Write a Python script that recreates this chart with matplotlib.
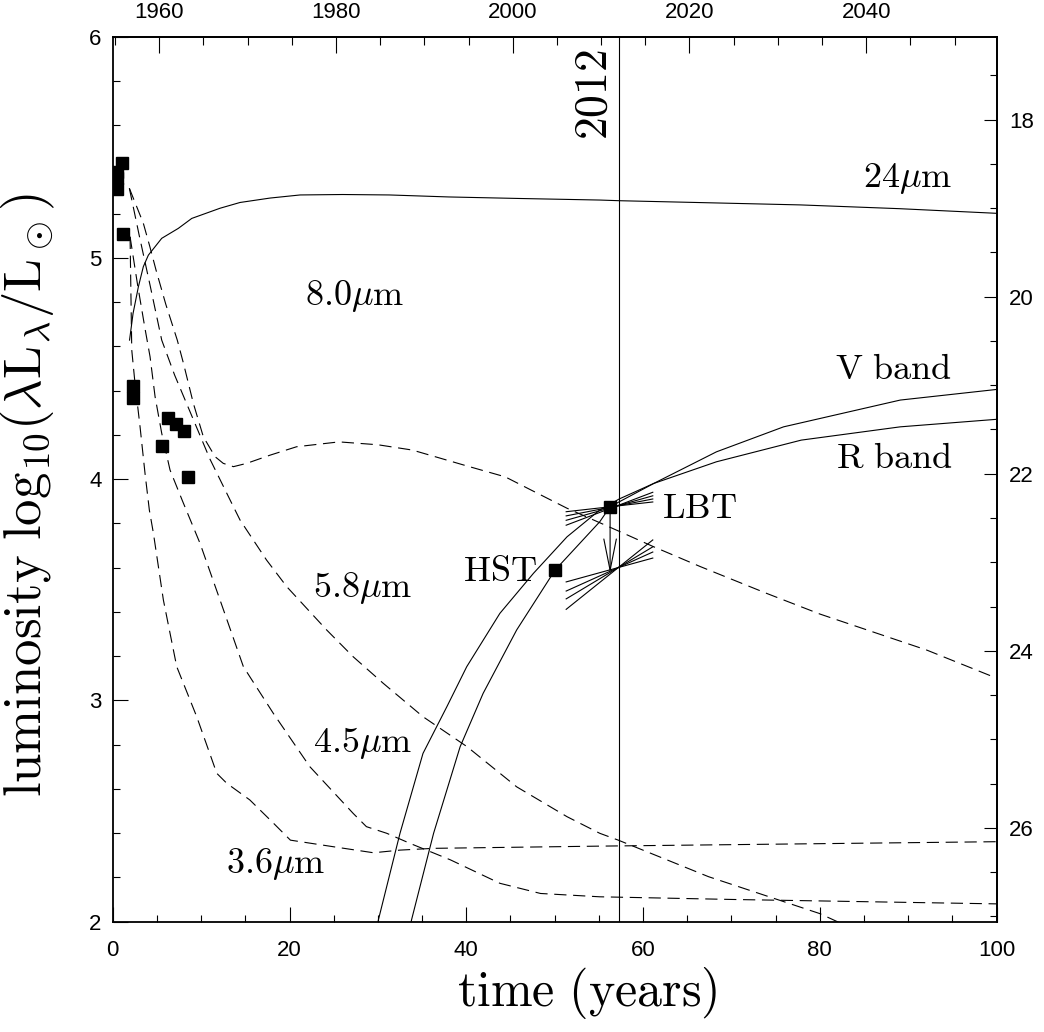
import numpy as np
import matplotlib
matplotlib.use('Agg')
import matplotlib.pyplot as plt
from matplotlib.ticker import MultipleLocator, FixedLocator

plt.rcParams['mathtext.fontset'] = 'cm'
plt.rcParams['font.family'] = ['Liberation Sans', 'DejaVu Sans']

# time zero and magnitude zero point for the twin axes
year0 = 1954.75
mag0 = 32.06
t_2012 = 2012 - year0
year_major = [1960, 1980, 2000, 2020, 2040]
year_minor = [1955 + 5 * i for i in range(20)]
mag_major = [18, 20, 22, 24, 26]
mag_minor = [17.5 + 0.5 * i for i in range(20)]

# 24 micron model (solid)
t_24 = [1.9, 2.3, 2.9, 3.46, 4.03, 5.54, 7.42, 8.94, 12.14, 14.4, 17.8, 21.2, 26.0, 31.3, 38.0, 46.1, 55.1, 57.3, 66.0, 77.8, 89.0, 100.0]
L_24 = [4.628, 4.749, 4.869, 4.96, 5.012, 5.088, 5.133, 5.178, 5.224, 5.25, 5.27, 5.284, 5.286, 5.284, 5.275, 5.268, 5.261, 5.258, 5.25, 5.239, 5.222, 5.201]

# IRAC models (dashed)
t_80 = [1.88, 3.46, 4.2, 4.9, 6.0, 7.3, 8.0, 9.12, 10.25, 11.58, 12.5, 13.65, 15.16, 17.8, 20.8, 25.6, 30.0, 33.9, 40.0, 44.4, 47.2, 51.4, 57.4, 61.2, 66.5, 74.0, 80.0, 92.1, 100.0]
L_80 = [5.314, 5.156, 5.05, 4.944, 4.79, 4.628, 4.523, 4.342, 4.191, 4.101, 4.071, 4.056, 4.071, 4.108, 4.146, 4.168, 4.155, 4.131, 4.06, 4.01, 3.953, 3.868, 3.762, 3.694, 3.604, 3.483, 3.39, 3.227, 3.1]

t_58 = [1.88, 3.0, 4.2, 5.54, 7.0, 9.0, 11.0, 13.28, 14.4, 17.4, 19.7, 24.2, 27.2, 30.6, 35.1, 40.1, 45.7, 51.4, 55.1, 57.2, 67.4, 80.0, 82.5]
L_58 = [5.314, 5.1, 4.88, 4.628, 4.47, 4.28, 4.09, 3.905, 3.815, 3.634, 3.513, 3.318, 3.197, 3.077, 2.926, 2.79, 2.609, 2.474, 2.399, 2.368, 2.203, 2.036, 1.99]

t_45 = [1.96, 2.8, 3.65, 4.22, 4.79, 5.54, 6.48, 7.9, 9.88, 12.14, 14.78, 18.17, 22.3, 27.2, 28.7, 31.0, 33.6, 38.2, 43.8, 48.4, 55.1, 70.0, 85.0, 100.0]
L_45 = [5.095, 4.88, 4.68, 4.553, 4.372, 4.207, 4.041, 3.9, 3.709, 3.453, 3.152, 2.941, 2.70, 2.489, 2.429, 2.399, 2.354, 2.279, 2.173, 2.127, 2.112, 2.10, 2.09, 2.08]

t_36 = [1.96, 2.15, 2.52, 3.09, 3.65, 4.14, 4.6, 5.73, 7.24, 9.5, 11.77, 12.9, 15.5, 18.2, 20.1, 25.0, 29.5, 32.5, 36.3, 43.8, 55.1, 100.0]
L_36 = [5.095, 4.583, 4.432, 4.236, 4.026, 3.86, 3.755, 3.453, 3.152, 2.926, 2.67, 2.625, 2.55, 2.444, 2.368, 2.338, 2.311, 2.323, 2.331, 2.335, 2.341, 2.361]

# optical models (solid)
t_R = [29.6, 30.05, 32.5, 35.1, 37.8, 40.05, 43.8, 47.6, 51.4, 55.1, 57.3, 61.2, 68.3, 77.9, 89.1, 100.0]
L_R = [1.9, 2.007, 2.399, 2.76, 2.971, 3.152, 3.393, 3.574, 3.739, 3.86, 3.91, 3.98, 4.078, 4.176, 4.236, 4.27]
t_V = [33.3, 33.8, 36.3, 39.3, 41.9, 45.7, 50.05, 55.1, 56.27, 57.3, 61.2, 68.3, 75.9, 89.1, 100.0]
L_V = [1.9, 2.007, 2.399, 2.79, 3.031, 3.318, 3.589, 3.807, 3.875, 3.897, 3.98, 4.123, 4.236, 4.357, 4.405]

# observed points
t_obs = [1.0, 0.5, 0.5, 0.5, 1.2, 2.26, 2.33, 6.26, 7.16, 8.07, 5.58, 8.52]
L_obs = [5.43, 5.39, 5.36, 5.31, 5.107, 4.42, 4.365, 4.277, 4.25, 4.218, 4.149, 4.01]
t_hst, L_hst = 50.05, 3.589
t_lbt, L_lbt = 56.27, 3.875
L_lbt_lim = 3.575

# slope fans around the LBT point and its upper limit
fan_t = [51.3, 61.1]
fan_hi_pivot = (57.0, 3.878)
fan_hi_slopes = [0.0045, 0.0078, 0.0113, 0.0152]
fan_lo_pivot = (57.2, 3.60)
fan_lo_slopes = [0.011, 0.018, 0.024, 0.032]

fig = plt.figure(figsize=(10.44, 10.32), dpi=100)
ax = fig.add_axes([0.108, 0.107, 0.8466, 0.8576])

lw = 0.8
dash = (11, 6)
ax.plot(t_24, L_24, color='k', lw=lw)
for tt, ll in [(t_80, L_80), (t_58, L_58), (t_45, L_45), (t_36, L_36)]:
    ax.plot(tt, ll, color='k', lw=lw, dashes=dash)
ax.plot(t_R, L_R, color='k', lw=lw)
ax.plot(t_V, L_V, color='k', lw=lw)

ax.plot(t_obs, L_obs, 's', color='k', ms=8.5)
ax.plot([t_hst, t_lbt], [L_hst, L_lbt], 's', color='k', ms=8.5)

for (t0, l0), slopes in [(fan_hi_pivot, fan_hi_slopes), (fan_lo_pivot, fan_lo_slopes)]:
    for s in slopes:
        ax.plot(fan_t, [l0 + s * (x - t0) for x in fan_t], color='k', lw=lw)

ax.annotate('', xy=(t_lbt, L_lbt_lim), xytext=(t_lbt, L_lbt - 0.03),
            arrowprops=dict(arrowstyle='->,head_length=1.5,head_width=0.3',
                            mutation_scale=15, lw=lw, color='k', shrinkA=0, shrinkB=0))

ax.axvline(t_2012, color='k', lw=lw)

ax.set_xlim(0, 100)
ax.set_ylim(2, 6)

tfs = 26
ax.text(94.97, 5.321, r'$24\mu\mathrm{m}$', fontsize=tfs, ha='right', va='baseline')
ax.text(21.8, 4.785, r'$8.0\mu\mathrm{m}$', fontsize=tfs, ha='left', va='baseline')
ax.text(22.7, 3.468, r'$5.8\mu\mathrm{m}$', fontsize=tfs, ha='left', va='baseline')
ax.text(22.7, 2.767, r'$4.5\mu\mathrm{m}$', fontsize=tfs, ha='left', va='baseline')
ax.text(12.82, 2.221, r'$3.6\mu\mathrm{m}$', fontsize=tfs, ha='left', va='baseline')
ax.text(94.97, 4.451, r'$\mathrm{V\ band}$', fontsize=tfs, ha='right', va='baseline')
ax.text(94.97, 4.048, r'$\mathrm{R\ band}$', fontsize=tfs, ha='right', va='baseline')
ax.text(62.1, 3.822, r'$\mathrm{LBT}$', fontsize=tfs, ha='left', va='baseline')
ax.text(39.6, 3.539, r'$\mathrm{HST}$', fontsize=tfs, ha='left', va='baseline')
ax.text(t_2012 - 0.25, 5.74, r'$\mathrm{2012}$', fontsize=33, rotation=90,
        ha='right', va='center')

ax.set_xlabel(r'$\mathrm{time\ (years)}$', fontsize=36)
ax.set_ylabel(r'$\mathrm{luminosity\ log_{10}(\lambda L_\lambda/L_\odot)}$', fontsize=38)
ax.xaxis.set_label_coords(0.537, -0.049)
ax.yaxis.set_label_coords(-0.063, 0.482)

ax.xaxis.set_major_locator(MultipleLocator(20))
ax.xaxis.set_minor_locator(MultipleLocator(5))
ax.yaxis.set_major_locator(MultipleLocator(1))
ax.yaxis.set_minor_locator(MultipleLocator(0.2))
ax.tick_params(which='both', direction='in', top=False, right=False, width=0.8, labelsize=16)
ax.tick_params(which='major', length=10.5)
ax.tick_params(which='minor', length=5)
ax.tick_params(axis='x', pad=13)
ax.tick_params(axis='y', pad=8)

top = ax.secondary_xaxis('top', functions=(lambda t: t + year0, lambda y: y - year0))
top.xaxis.set_major_locator(FixedLocator(year_major))
top.xaxis.set_minor_locator(FixedLocator([y for y in year_minor if year0 <= y <= year0 + 100]))
top.tick_params(which='both', direction='in', width=0.8, labelsize=16, pad=10)
top.tick_params(which='major', length=11.5)
top.tick_params(which='minor', length=6)

right = ax.secondary_yaxis('right', functions=(lambda L: mag0 - 2.5 * L, lambda m: (mag0 - m) / 2.5))
right.yaxis.set_major_locator(FixedLocator(mag_major))
right.yaxis.set_minor_locator(FixedLocator([m for m in mag_minor if mag0 - 15 <= m <= mag0 - 5]))
right.tick_params(which='both', direction='in', width=0.8, labelsize=16, pad=9)
right.tick_params(which='major', length=9.5)
right.tick_params(which='minor', length=5)

for sp in ax.spines.values():
    sp.set_linewidth(1.3)
top.spines['top'].set_linewidth(1.3)
right.spines['right'].set_linewidth(1.3)

fig.savefig('out.png', dpi=100)
